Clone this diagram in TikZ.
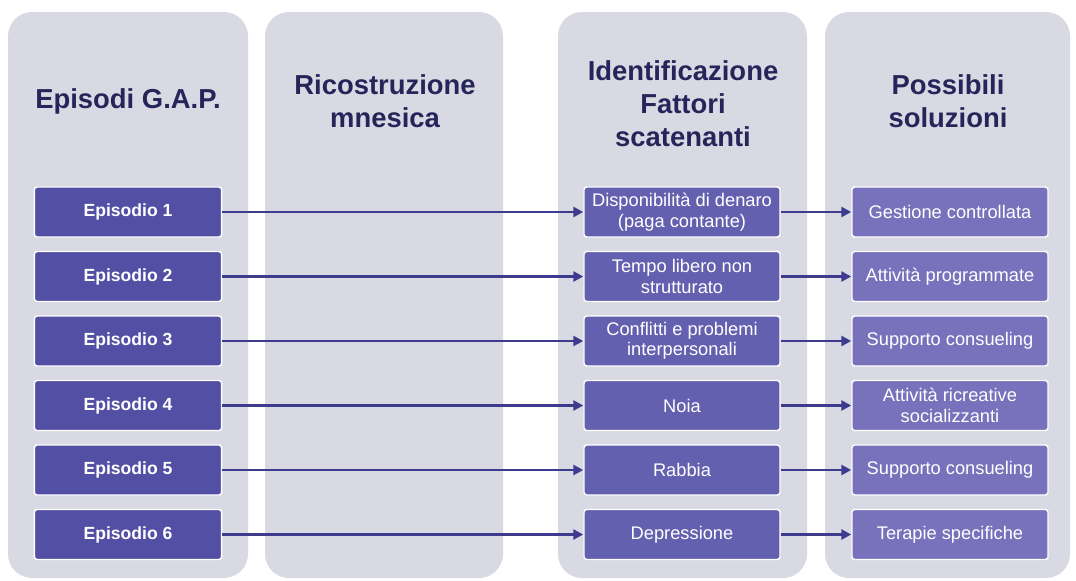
\documentclass[tikz,border=0pt]{standalone}
\usepackage{fontspec}
\setmainfont{Liberation Sans}
\usepackage{xcolor}
\usetikzlibrary{arrows.meta, positioning}

\definecolor{panelgray}{HTML}{D9D9E4}
\definecolor{titleblue}{HTML}{26255A}
\definecolor{episode}{HTML}{524FA5}
\definecolor{factor}{HTML}{6460B0}
\definecolor{solution}{HTML}{7772BB}
\definecolor{arrowblue}{HTML}{3E3B8F}

\begin{document}
\begin{tikzpicture}[
    x=0.025cm, y=-0.025cm,
    font=\fontsize{13}{14.5}\selectfont,
    >={Triangle[length=7pt, width=7pt]},
    panel/.style={fill=panelgray, rounded corners=0.6cm},
    title/.style={font=\fontsize{19.5}{23.5}\selectfont\bfseries,
        text=titleblue, align=center},
    block/.style={draw=white, line width=1pt, fill=#1, text=white,
        rounded corners=2pt, minimum height=1.25cm, inner sep=1pt,
        align=center},
    epi/.style={block=episode, minimum width=4.68cm,
        font=\fontsize{12.5}{14}\selectfont\bfseries},
    fac/.style={block=factor, minimum width=4.9cm},
    sol/.style={block=solution, minimum width=4.9cm},
    arr/.style={->, line width=2pt, arrowblue},
]
\useasboundingbox (0,0) rectangle (1076,580);
%% Panels
\fill[panel] (8,12) rectangle (248,578);
\fill[panel] (265,12) rectangle (503,578);
\fill[panel] (558,12) rectangle (807,578);
\fill[panel] (825,12) rectangle (1070,578);
%% Titles
\node[title] (t1) at (128,101) {Episodi G.A.P.};
\node[title] (t2) at (385,101) {Ricostruzione\\mnesica};
\node[title] (t3) at (683,104) {Identificazione\\Fattori\\scatenanti};
\node[title] (t4) at (948,101) {Possibili\\soluzioni};
%% Episodes
\node[epi] (e1) at (128,212)   {Episodio 1};
\node[epi] (e2) at (128,276.5) {Episodio 2};
\node[epi] (e3) at (128,341)   {Episodio 3};
\node[epi] (e4) at (128,405.5) {Episodio 4};
\node[epi] (e5) at (128,470)   {Episodio 5};
\node[epi] (e6) at (128,534.5) {Episodio 6};
%% Factors
\node[fac] (f1) at (682,212)   {Disponibilità di denaro\\(paga contante)};
\node[fac] (f2) at (682,276.5) {Tempo libero non\\strutturato};
\node[fac] (f3) at (682,341)   {Conflitti e problemi\\interpersonali};
\node[fac] (f4) at (682,405.5) {Noia};
\node[fac] (f5) at (682,470)   {Rabbia};
\node[fac] (f6) at (682,534.5) {Depressione};
%% Solutions
\node[sol] (s1) at (950,212)   {Gestione controllata};
\node[sol] (s2) at (950,276.5) {Attività programmate};
\node[sol] (s3) at (950,341)   {Supporto consueling};
\node[sol] (s4) at (950,405.5) {Attività ricreative\\socializzanti};
\node[sol] (s5) at (950,470)   {Supporto consueling};
\node[sol] (s6) at (950,534.5) {Terapie specifiche};
%% Arrows
\draw[arr] (e1) -- (f1);
\draw[arr] (e2) -- (f2);
\draw[arr] (e3) -- (f3);
\draw[arr] (e4) -- (f4);
\draw[arr] (e5) -- (f5);
\draw[arr] (e6) -- (f6);
\draw[arr] (f1) -- (s1);
\draw[arr] (f2) -- (s2);
\draw[arr] (f3) -- (s3);
\draw[arr] (f4) -- (s4);
\draw[arr] (f5) -- (s5);
\draw[arr] (f6) -- (s6);
\end{tikzpicture}
\end{document}
